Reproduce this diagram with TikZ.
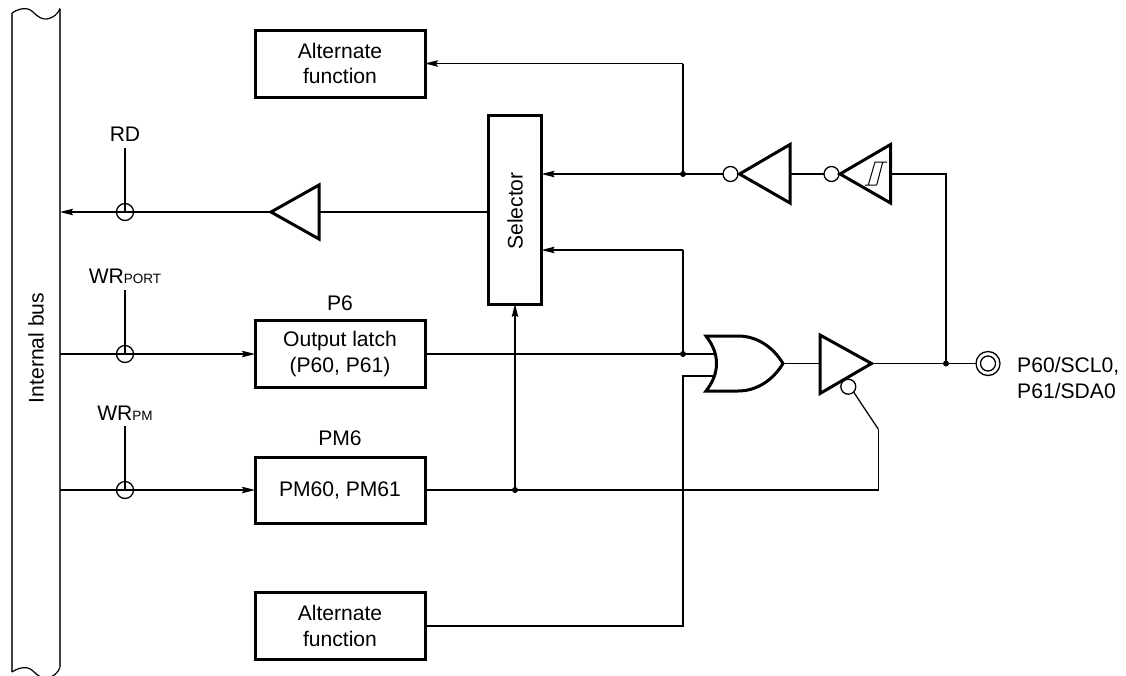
\documentclass[tikz,border=0pt]{standalone}
\usepackage{fontspec}
\setmainfont{Liberation Sans}
\usetikzlibrary{arrows.meta}
\newcommand{\lab}{\fontsize{21.1pt}{25.5pt}\selectfont}
\newcommand{\subsc}[1]{{\fontsize{13.5pt}{14pt}\selectfont #1}}
\tikzset{
  x=1pt,y=-1pt,
  wire/.style={line width=1.25pt},
  arr/.style={line width=1.25pt,-{Stealth[length=13pt,width=6.5pt,inset=2pt]}},
  gate/.style={line width=3pt,line join=miter,fill=white},
  fbox/.style={draw,line width=3pt,rectangle,inner sep=0pt,outer sep=0pt,align=center,font=\lab,minimum width=170pt},
  txt/.style={inner sep=0pt,font=\lab,align=left},
  bub/.style={draw,circle,line width=1.3pt,fill=white,inner sep=0pt,outer sep=0pt,minimum size=15pt},
  cross/.style={draw,circle,line width=1.3pt,inner sep=0pt,outer sep=0pt,minimum size=17pt},
  jn/.style={fill,circle,inner sep=0pt,minimum size=6pt}
}
\begin{document}
\begin{tikzpicture}
\clip (0,0) rectangle (1126,675);
\fill[white] (0,0) rectangle (1126,675);
% internal bus
\draw[line width=1.8pt,black!75] (12,13) -- (12,672);
\draw[line width=1.8pt,black!75] (60,8.5) -- (60,667);
\draw[line width=1.2pt] (12,13) .. controls (18,9) and (27,6) .. (33,12) .. controls (38,17) and (42,19.5) .. (47,19) .. controls (53,18) and (58,14) .. (60,8.5);
\draw[line width=1.2pt] (12,672) .. controls (18,668) and (27,665) .. (33,671) .. controls (38,676) and (42,678.5) .. (47,678) .. controls (53,677) and (58,673) .. (60,667.5);
\node[txt,rotate=90] (busl) at (36,348) {Internal bus};
% named bus tap points
\coordinate (busrd) at (60,212);
\coordinate (buswp) at (60,354);
\coordinate (buspm) at (60,490);
% boxes
\node[fbox,minimum height=67pt] (altt) at (340,63.5) {Alternate\\function};
\node[fbox,minimum height=67pt] (latch) at (340,354) {Output latch\\(P60, P61)};
\node[fbox,minimum height=66pt] (pmb) at (340,490) {PM60, PM61};
\node[fbox,minimum height=67pt] (altb) at (340,626) {Alternate\\function};
\node[draw,line width=3pt,rectangle,inner sep=0pt,outer sep=0pt,minimum width=53pt,minimum height=189pt] (sel) at (515,209.5) {};
\node[txt,rotate=90] (sellab) at (515,211) {Selector};
% labels
\node[txt] (lrd) at (125,134) {RD};
\node[txt] (lwp) at (125,276) {WR\subsc{PORT}};
\node[txt] (lwm) at (125,413) {WR\subsc{PM}};
\node[txt] (lp6) at (340,303) {P6};
\node[txt] (lpm6) at (340,438) {PM6};
\node[txt,anchor=west] (lpin) at (1017,378) {P60/SCL0,\\P61/SDA0};
% junctions and corners
\coordinate (ja) at (683,174);
\coordinate (jb) at (683,354);
\coordinate (jc) at (515,490);
\coordinate (jd) at (946,363.5);
\coordinate (ce) at (683,63.5);
\coordinate (cf) at (683,250);
\coordinate (cg) at (683,376);
\coordinate (ch) at (683,626);
\coordinate (ci) at (878.5,490);
\coordinate (cj) at (878.5,429.5);
\coordinate (ck) at (946,174);
\coordinate (orin) at (714,354);
\coordinate (orib) at (714,376);
\coordinate (orout) at (783,363.5);
\coordinate (bufin) at (820,363.5);
\coordinate (buftip) at (871.5,363.5);
\coordinate (trdtip) at (271,212);
\coordinate (trdbase) at (319,212);
\coordinate (t1base) at (790,174);
\coordinate (t2base) at (890.5,174);
\coordinate (sele) at (541.5,174);
\coordinate (selw) at (488.5,212);
\coordinate (selb) at (515,304);
\coordinate (selc) at (541.5,250);
% bubbles
\node[bub] (b1) at (730.5,174) {};
\node[bub] (b2) at (831.5,174) {};
% wires
\draw[wire] (selw) -- (trdbase);
\draw[arr] (trdtip) -- (busrd);
\draw[arr] (buswp) -- (latch.west);
\draw[arr] (buspm) -- (pmb.west);
\draw[wire] (ja) -- (ce);
\draw[arr] (ce) -- (altt.east);
\draw[arr] (ja) -- (sele);
\draw[wire] (jb) -- (cf);
\draw[arr] (cf) -- (selc);
\draw[wire] (latch.east) -- (orin);
\draw[wire] (orib) -- (cg) -- (ch) -- (altb.east);
\draw[wire] (pmb.east) -- (ci) -- (cj);
\draw[arr] (jc) -- (selb);
\draw[wire] (orout) -- (bufin);
\draw[wire] (buftip) -- (976,363.5);
\draw[wire] (jd) -- (ck) -- (t2base);
\draw[wire] (t1base) -- (b2.west);
\draw[wire] (ja) -- (b1.west);
% control crossing circles
\coordinate (rdt) at (125,148);
\coordinate (wpt) at (125,290);
\coordinate (wmt) at (125,426);
\node[cross] (xrd) at (125,212) {};
\node[cross] (xwp) at (125,354) {};
\node[cross] (xwm) at (125,490) {};
\draw[wire] (rdt) -- (xrd.center);
\draw[wire] (wpt) -- (xwp.center);
\draw[wire] (wmt) -- (xwm.center);
% triangles
\draw[gate] (319,185) -- (319,239) -- (trdtip) -- cycle;
\draw[gate] (790,144.5) -- (790,203) -- (739.5,174) -- cycle;
\draw[gate] (890.5,144.5) -- (890.5,203) -- (840,174) -- cycle;
\draw[gate] (820,335) -- (820,393.5) -- (buftip) -- cycle;
% schmitt symbol
\draw[line width=1pt] (875,162) -- (887,162) (875,162) -- (868.3,185) (882.7,162) -- (876.7,185) (865,185) -- (876.7,185);
% or gate
\draw[gate] (706,336) -- (738,336) .. controls (757,336) and (773,347) .. (orout) .. controls (773,380) and (757,391) .. (738,391) -- (706,391) .. controls (713,382) and (716.5,373) .. (716.5,363.5) .. controls (716.5,354) and (713,345) .. (706,336) -- cycle;
% bubble on the buffer enable
\node[bub] (b3) at (848.3,386.7) {};
\draw[wire] (cj) -- (b3.south east);
% dots
\node[jn] (da) at (ja) {};
\node[jn] (db) at (jb) {};
\node[jn] (dc) at (jc) {};
\node[jn] (dd) at (jd) {};
% pin
\node[draw,circle,line width=1.3pt,fill=white,inner sep=0pt,outer sep=0pt,minimum size=24pt] (pino) at (988,363.5) {};
\node[draw,circle,line width=1.3pt,inner sep=0pt,outer sep=0pt,minimum size=15pt] (pini) at (988,363.5) {};
\end{tikzpicture}
\end{document}
